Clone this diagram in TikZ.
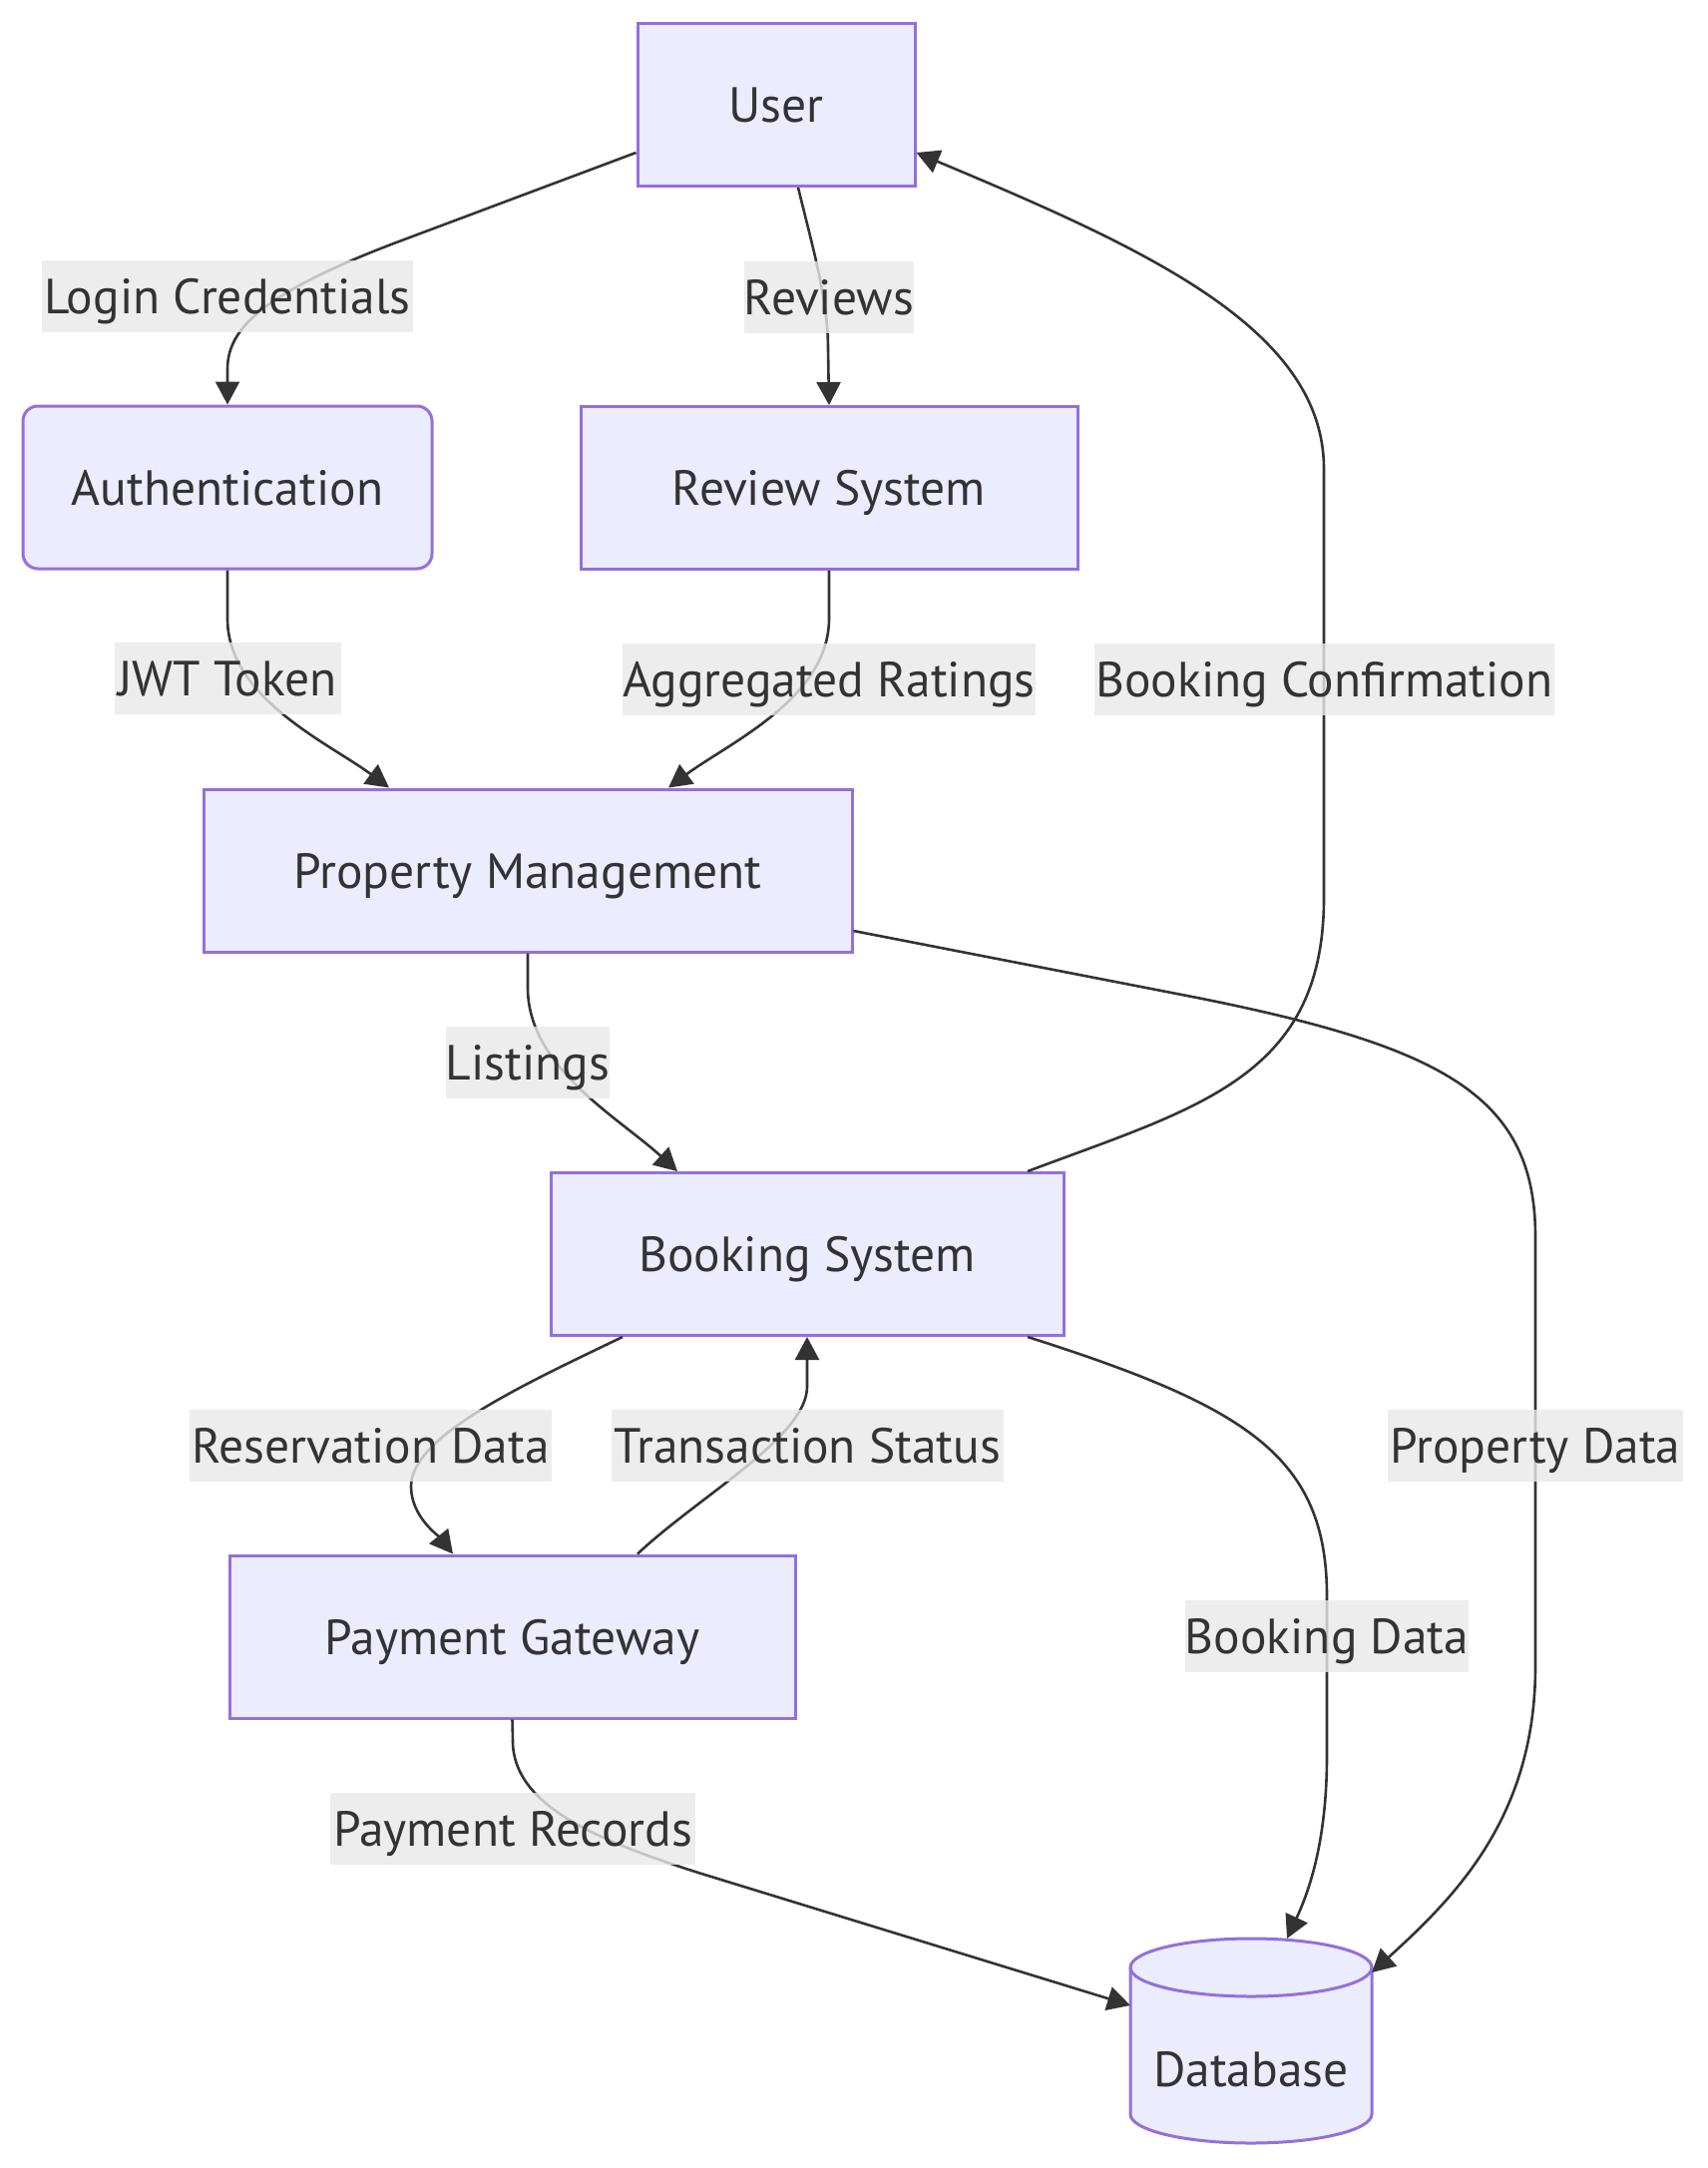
\documentclass[tikz,border=0pt]{standalone}
\usepackage{fontspec}
\setmainfont{PT Sans}
\usetikzlibrary{arrows.meta}
\definecolor{nodefill}{HTML}{ECECFF}
\definecolor{nodestroke}{HTML}{9370DB}
\definecolor{textc}{HTML}{333333}
\definecolor{edgec}{HTML}{333333}
\definecolor{lblfill}{HTML}{E8E8E8}
\newcommand\nfont{\fontsize{49.5}{58}\selectfont}
\tikzset{
  box/.style={draw=nodestroke, fill=nodefill, line width=3pt, minimum height=163pt, text=textc, font=\nfont, inner sep=0pt, text height=35pt, text depth=0pt},
  lbl/.style={fill=lblfill, fill opacity=0.8, text opacity=1, text=textc, font=\nfont, inner sep=0pt, minimum height=72pt, text height=35pt, text depth=0pt},
  flow/.style={draw=edgec, line width=2.6pt, -{Triangle[length=23pt,width=24pt]}}
}
\begin{document}
\begin{tikzpicture}[x=1pt,y=-1pt]
\useasboundingbox (0,0) rectangle (1711,2173);
% nodes
\node[box, minimum width=278] (user) at (778,105) {User};
\node[box, rounded corners=15pt, minimum width=410] (auth) at (228,488.5) {Authentication};
\node[box, minimum width=498] (review) at (831,489) {Review System};
\node[box, minimum width=650] (prop) at (529,872.5) {Property Management};
\node[box, minimum width=514] (booking) at (809,1257) {Booking System};
\node[box, minimum width=567] (pay) at (513.5,1640.5) {Payment Gateway};
% database cylinder
\path[fill=nodefill, draw=nodestroke, line width=3pt] (1133,1972) -- (1133,2119) arc[start angle=180, end angle=0, x radius=121, y radius=29] -- (1375,1972) arc[start angle=0, end angle=-180, x radius=121, y radius=29] -- cycle;
\draw[nodestroke, line width=3pt] (1133,1972) arc[start angle=180, end angle=0, x radius=121, y radius=29];
\node[text=textc, font=\nfont, inner sep=0pt, minimum width=242pt, text height=35pt, text depth=0pt] (db) at (1254,2074) {Database};
\coordinate (dbleft) at (1133,2010);
\coordinate (dbtop) at (1290,1943);
\coordinate (dbright) at (1375,1977);
% edges
\draw[flow] ([yshift=-48pt]user.west) -- (400,242) .. controls (262,294) and (228,330) .. (228,370) -- (auth.north);
\draw[flow] ([xshift=22pt]user.south) .. controls (815,250) and (830,300) .. (830,350) -- (review.north);
\draw[flow] (auth.south) -- (228,620) .. controls (228,700) and (330,745) .. ([xshift=-139pt]prop.north);
\draw[flow] (review.south) -- (831,620) .. controls (831,700) and (730,745) .. ([xshift=141pt]prop.north);
\draw[flow] ([xshift=221pt]booking.north) .. controls (1200,1110) and (1327,1080) .. (1327,900) -- (1327,470) .. controls (1327,330) and (1150,250) .. ([yshift=-48pt]user.east);
\draw[flow] (prop.south) -- (529,990) .. controls (529,1070) and (620,1120) .. ([xshift=-130pt]booking.north);
\draw[flow] ([yshift=-60.5pt]prop.east) -- (1200,1000) .. controls (1450,1050) and (1539,1100) .. (1539,1240) -- (1539,1670) .. controls (1539,1820) and (1460,1900) .. (dbright);
\draw[flow] ([xshift=-185pt]booking.south) .. controls (520,1390) and (412,1440) .. (412,1490) .. controls (412,1520) and (440,1540) .. ([xshift=-59.5pt]pay.north);
\draw[flow] ([xshift=125.5pt]pay.north) .. controls (700,1500) and (809,1440) .. (809,1390) -- (booking.south);
\draw[flow] ([xshift=221pt]booking.south) .. controls (1250,1410) and (1330,1460) .. (1330,1600) -- (1330,1760) .. controls (1330,1850) and (1310,1900) .. (dbtop);
\draw[flow] (pay.south) -- (514,1745) .. controls (514,1810) and (600,1845) .. (700,1877) -- (dbleft);
% edge labels
\node[lbl, minimum width=372pt] (l1) at (228,297) {Login Credentials};
\node[lbl, minimum width=170pt] (l2) at (831,297.5) {Reviews};
\node[lbl, minimum width=227pt] (l3) at (228,680) {JWT Token};
\node[lbl, minimum width=414pt] (l4) at (831,681) {Aggregated Ratings};
\node[lbl, minimum width=461pt] (l5) at (1327.5,681) {Booking Confirmation};
\node[lbl, minimum width=158pt] (l6) at (529,1065) {Listings};
\node[lbl, minimum width=363pt] (l7) at (371.5,1449) {Reservation Data};
\node[lbl, minimum width=393pt] (l8) at (809.5,1449) {Transaction Status};
\node[lbl, minimum width=296pt] (l9) at (1539,1449) {Property Data};
\node[lbl, minimum width=280pt] (l10) at (1330,1640) {Booking Data};
\node[lbl, minimum width=366pt] (l11) at (514,1833) {Payment Records};
\end{tikzpicture}
\end{document}
